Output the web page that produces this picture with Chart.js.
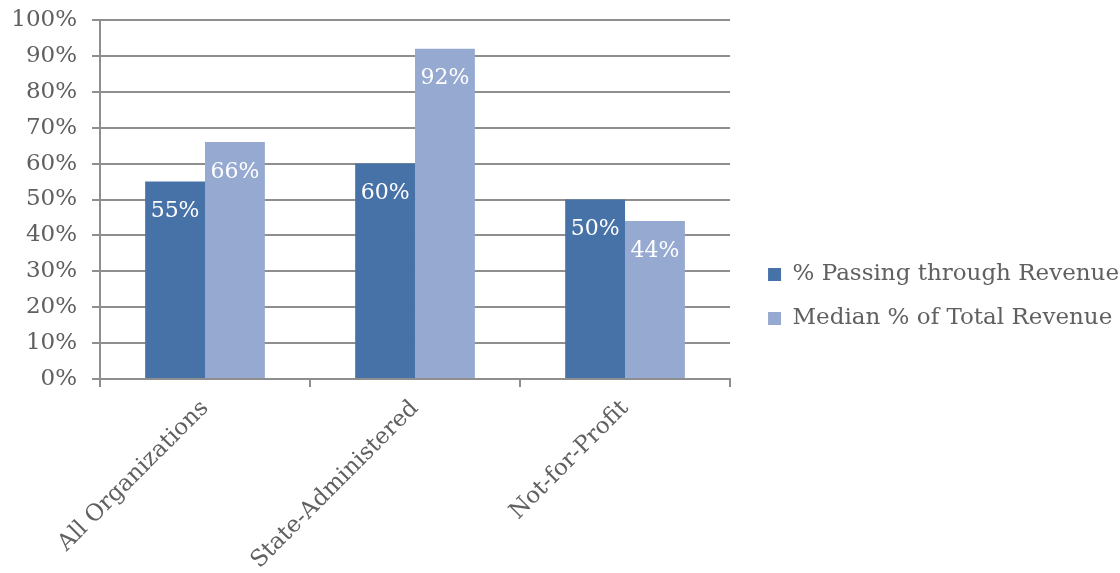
<!DOCTYPE html>
<html>
<head>
<meta charset="utf-8">
<script src="https://cdn.jsdelivr.net/npm/chart.js@4"></script>
<style>
  html, body { margin: 0; padding: 0; background: #fff; }
  #wrap { width: 1120px; height: 573px; }
</style>
</head>
<body>
<div id="wrap"><canvas id="chart1"></canvas></div>
<script>
const categories = ["All Organizations", "State-Administered", "Not-for-Profit"];
const passingThrough = [55, 60, 50];
const medianTotal = [66, 92, 44];
const seriesNames = ["% Passing through Revenue", "Median % of Total Revenue"];
const yTicks = [0, 10, 20, 30, 40, 50, 60, 70, 80, 90, 100];

const FONT = "'DejaVu Serif', serif";
const GRID = "#8e8e8e";
const TEXT = "#606060";

// white value labels inside the top of each bar
const barLabels = {
  id: "barLabels",
  afterDatasetsDraw(chart) {
    const ctx = chart.ctx;
    ctx.save();
    ctx.fillStyle = "#fff";
    ctx.font = "22px " + FONT;
    ctx.textAlign = "center";
    ctx.textBaseline = "middle";
    chart.data.datasets.forEach((ds, i) => {
      chart.getDatasetMeta(i).data.forEach((bar, j) => {
        ctx.fillText(ds.data[j] + "%", bar.x, bar.y + 30);
      });
    });
    ctx.restore();
  },
};

document.addEventListener("DOMContentLoaded", () => {
  new Chart(document.getElementById("chart1"), {
    type: "bar",
    data: {
      labels: categories,
      datasets: [
        {
          label: seriesNames[0],
          data: passingThrough,
          backgroundColor: "#4672a8",
          categoryPercentage: 0.57,
          barPercentage: 1,
        },
        {
          label: seriesNames[1],
          data: medianTotal,
          backgroundColor: "#95a9d1",
          categoryPercentage: 0.57,
          barPercentage: 1,
        },
      ],
    },
    plugins: [barLabels],
    options: {
      responsive: true,
      maintainAspectRatio: false,
      animation: false,
      layout: { padding: { top: 20, left: 0, right: -9, bottom: 0 } },
      plugins: {
        tooltip: { enabled: false },
        legend: {
          position: "right",
          maxWidth: 400,
          labels: {
            boxWidth: 13,
            boxHeight: 13,
            padding: 21,
            color: TEXT,
            font: { family: FONT, size: 23 },
          },
        },
      },
      scales: {
        x: {
          grid: {
            offset: true,
            drawOnChartArea: false,
            drawTicks: true,
            tickLength: 8,
            color: GRID,
            lineWidth: 2,
          },
          border: { color: GRID, width: 2 },
          ticks: {
            color: TEXT,
            font: { family: FONT, size: 23 },
            minRotation: 45,
            maxRotation: 45,
            padding: 8,
          },
          afterFit(scale) {
            scale.height = 194;
          },
        },
        y: {
          min: 0,
          max: 100,
          afterBuildTicks(scale) {
            scale.ticks = yTicks.map((v) => ({ value: v }));
          },
          grid: { color: GRID, lineWidth: 2, tickLength: 8 },
          border: { color: GRID, width: 2 },
          ticks: {
            color: TEXT,
            font: { family: FONT, size: 23 },
            padding: 15,
            callback: (v) => v + "%",
          },
          afterFit(scale) {
            scale.width = 100;
            scale.paddingTop = 0;
            scale.paddingBottom = 0;
          },
        },
        // empty right-hand axis, only keeps the gap before the legend
        gap: {
          position: "right",
          display: true,
          grid: { display: false },
          border: { display: false },
          ticks: { display: false },
          afterFit(scale) {
            scale.width = 17;
            scale.paddingTop = 0;
            scale.paddingBottom = 0;
          },
        },
      },
    },
  });
});
</script>
</body>
</html>
